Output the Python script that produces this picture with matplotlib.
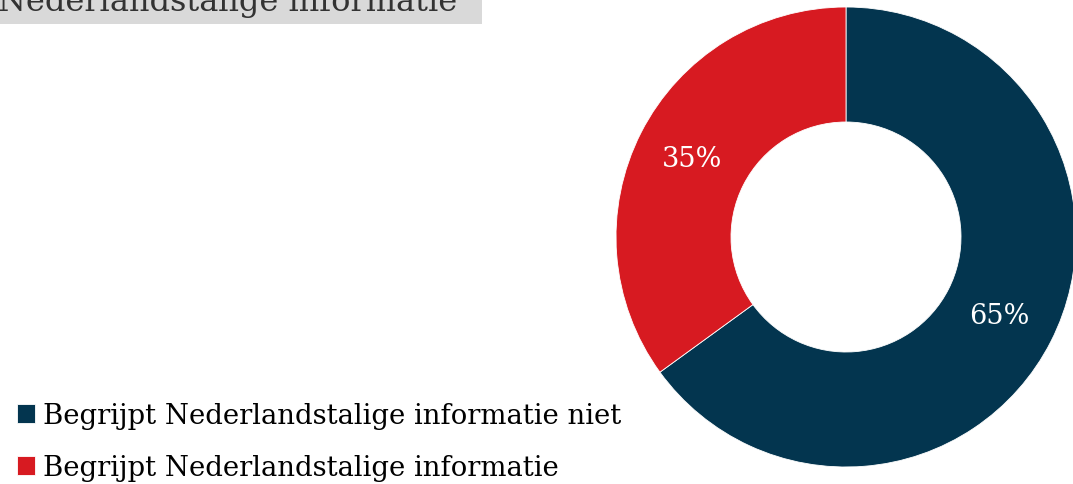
import matplotlib.pyplot as plt
from matplotlib.patches import Rectangle

# Data
categories = ["Begrijpt Nederlandstalige informatie niet",
              "Begrijpt Nederlandstalige informatie"]
shares = [65, 35]
colors = ["#03354f", "#d71a21"]
title = "Nederlandstalige informatie"

W, H = 1073, 485
fig = plt.figure(figsize=(W / 100, H / 100), dpi=100)
plt.rcParams['font.family'] = ['DejaVu Serif']

# Donut axes (center ~ (846, 238) px from top, radius 230 px)
cx, cy, r = 846, 238, 230
ax = fig.add_axes([(cx - r) / W, (H - cy - r) / H, 2 * r / W, 2 * r / H])
wedges, texts, autotexts = ax.pie(
    shares, colors=colors, startangle=90, counterclock=False,
    radius=1, wedgeprops=dict(width=0.5, edgecolor="white", linewidth=0.6),
    autopct=lambda p: f"{p:.0f}%", pctdistance=0.75)
for t in autotexts:
    t.set_color("white")
    t.set_fontsize(19.5)
ax.set_xlim(-1, 1)
ax.set_ylim(-1, 1)
ax.set_aspect("equal")
ax.axis("off")

# Title box (cut off at top, as in the source)
fig.patches.append(Rectangle((0, 1 - 24.5 / H), 482 / W, 24.5 / H,
                             transform=fig.transFigure, facecolor="#d9d9d9",
                             edgecolor="none", zorder=0))
fig.text(-2 / W, 1 - 10.5 / H, title, fontsize=23, color="#333333",
         ha="left", va="baseline")

# Legend
fig.legend(wedges, categories, loc="lower left",
           bbox_to_anchor=(6 / W, -8 / H), frameon=False,
           fontsize=19.8, handlelength=0.65, handleheight=0.65,
           handletextpad=0.3, labelspacing=0.9, borderaxespad=0)

fig.savefig("out.png", dpi=100)
